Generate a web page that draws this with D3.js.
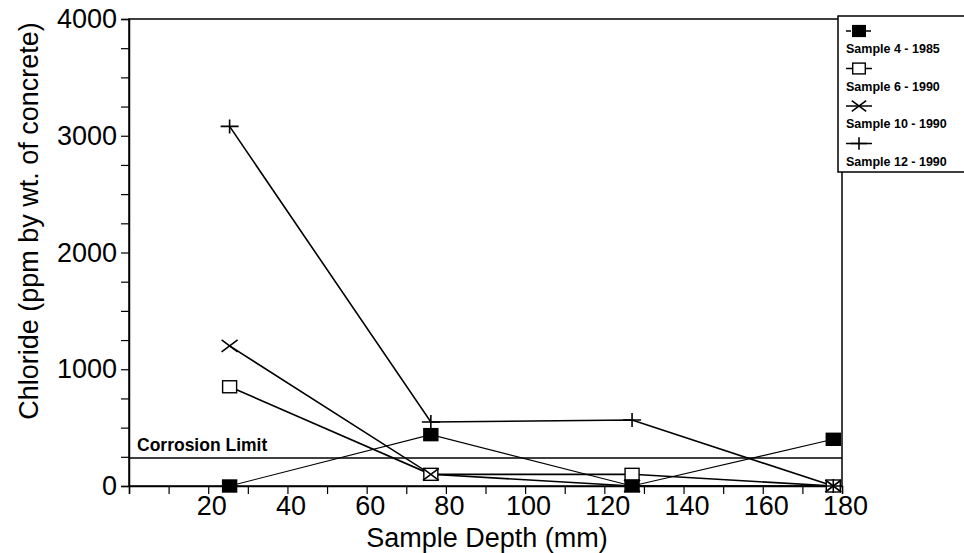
<!DOCTYPE html>
<html>
<head>
<meta charset="utf-8">
<script src="https://cdn.jsdelivr.net/npm/d3@7"></script>
<style>
  body { margin: 0; background: #fff; }
  text { font-family: "Liberation Sans", Arial, sans-serif; fill: #000; }
</style>
</head>
<body>
<div id="chart"></div>
<script>
// sample depths (mm) and chloride values (ppm)
const depths = [25.4, 76.2, 127, 177.8];
const sample4 = [0, 440, 0, 400];
const sample6 = [850, 100, 100, 0];
const sample10 = [1200, 100, 0, 0];
const sample12 = [3080, 548, 565, 0];
const seriesNames = ["Sample 4 - 1985", "Sample 6 - 1990", "Sample 10 - 1990", "Sample 12 - 1990"];
const seriesMarks = ["filled", "open", "cross", "plus"];
const corrosionLimit = 240;
const xTickLabels = [20, 40, 60, 80, 100, 120, 140, 160, 180];
const yTickLabels = [0, 1000, 2000, 3000, 4000];

const width = 964, height = 553;
const plotLeft = 129, plotRight = 842, plotTop = 19, plotBottom = 486;

const svg = d3.select("#chart").append("svg")
  .attr("width", width)
  .attr("height", height);

const x = d3.scaleLinear().domain([0, 180]).range([plotLeft, plotRight]);
const y = d3.scaleLinear().domain([0, 4000]).range([plotBottom, plotTop]);

// frame
svg.append("rect")
  .attr("x", plotLeft).attr("y", plotTop)
  .attr("width", plotRight - plotLeft).attr("height", plotBottom - plotTop)
  .attr("fill", "none").attr("stroke", "#000").attr("stroke-width", 1.5);

// x axis
const xAxis = d3.axisBottom(x)
  .tickValues(d3.range(0, 181, 10))
  .tickSize(8)
  .tickFormat(d => xTickLabels.includes(d) ? d : "");
const gx = svg.append("g").attr("transform", `translate(0,${plotBottom})`).call(xAxis);
gx.select(".domain").attr("stroke-width", 1.5);
gx.selectAll(".tick line").attr("stroke-width", 1.2);
gx.selectAll(".tick text")
  .attr("dy", "0.72em").attr("y", 10).attr("x", 3)
  .style("font-size", "27px").style("font-family", "Liberation Sans, Arial, sans-serif");

// y axis
const yAxis = d3.axisLeft(y)
  .tickValues(d3.range(0, 4001, 250))
  .tickSize(8)
  .tickFormat(d => yTickLabels.includes(d) ? d : "");
const gy = svg.append("g").attr("transform", `translate(${plotLeft},0)`).call(yAxis);
gy.select(".domain").attr("stroke-width", 1.5);
gy.selectAll(".tick line").attr("stroke-width", 1.2);
gy.selectAll(".tick text")
  .attr("x", -12)
  .style("font-size", "27px").style("font-family", "Liberation Sans, Arial, sans-serif");

// axis titles
svg.append("text")
  .attr("x", 487).attr("y", 547)
  .attr("text-anchor", "middle")
  .style("font-size", "27px")
  .text("Sample Depth (mm)");

svg.append("text")
  .attr("transform", `translate(38,221) rotate(-90)`)
  .attr("text-anchor", "middle")
  .style("font-size", "27px")
  .text("Chloride (ppm by wt. of concrete)");

// corrosion limit
svg.append("line")
  .attr("x1", plotLeft).attr("x2", plotRight)
  .attr("y1", y(corrosionLimit)).attr("y2", y(corrosionLimit))
  .attr("stroke", "#000").attr("stroke-width", 1.5);
svg.append("text")
  .attr("x", 137).attr("y", y(corrosionLimit) - 7)
  .style("font-size", "17.5px").style("font-weight", "bold")
  .text("Corrosion Limit");

// markers
function drawMark(g, kind, cx, cy, s) {
  s = s || 1;
  if (kind === "filled" || kind === "open") {
    g.append("rect")
      .attr("x", cx - 7 * s).attr("y", cy - 6 * s)
      .attr("width", 14 * s).attr("height", 12 * s)
      .attr("fill", kind === "filled" ? "#000" : "#fff")
      .attr("stroke", "#000").attr("stroke-width", 1.4);
  } else if (kind === "cross") {
    g.append("path")
      .attr("d", `M${cx - 8 * s},${cy - 6 * s}L${cx + 8 * s},${cy + 6 * s}M${cx - 8 * s},${cy + 6 * s}L${cx + 8 * s},${cy - 6 * s}`)
      .attr("stroke", "#000").attr("stroke-width", 1.6).attr("fill", "none");
  } else {
    g.append("path")
      .attr("d", `M${cx - 9 * s},${cy}L${cx + 9 * s},${cy}M${cx},${cy - 7 * s}L${cx},${cy + 7 * s}`)
      .attr("stroke", "#000").attr("stroke-width", 1.6).attr("fill", "none");
  }
}

const allSeries = [sample4, sample6, sample10, sample12];
const line = d3.line().x((d, i) => x(depths[i])).y(d => y(d));

allSeries.forEach((vals, si) => {
  svg.append("path")
    .datum(vals)
    .attr("d", line)
    .attr("fill", "none")
    .attr("stroke", "#000")
    .attr("stroke-width", si === 0 ? 1.1 : 1.6);
});

// draw markers with filled squares last so they sit on top
[1, 2, 3, 0].forEach(si => {
  const g = svg.append("g");
  allSeries[si].forEach((v, i) => drawMark(g, seriesMarks[si], x(depths[i]), y(v)));
});

// legend
const lg = svg.append("g");
lg.append("rect")
  .attr("x", 838).attr("y", 16)
  .attr("width", 140).attr("height", 156)
  .attr("fill", "#fff").attr("stroke", "#000").attr("stroke-width", 1.5);

seriesNames.forEach((name, i) => {
  const sy = 31 + i * 37.5;
  if (i === 0) {
    lg.append("path").attr("d", `M846,${sy}L851,${sy}M866,${sy}L871,${sy}`)
      .attr("stroke", "#000").attr("stroke-width", 1.5);
  } else {
    lg.append("line").attr("x1", 846).attr("x2", 872).attr("y1", sy).attr("y2", sy)
      .attr("stroke", "#000").attr("stroke-width", 1.5);
  }
  drawMark(lg, seriesMarks[i], 859, sy, 0.9);
  lg.append("text")
    .attr("x", 846).attr("y", sy + 22)
    .style("font-size", "12.5px").style("font-weight", "bold")
    .text(name);
});
</script>
</body>
</html>
